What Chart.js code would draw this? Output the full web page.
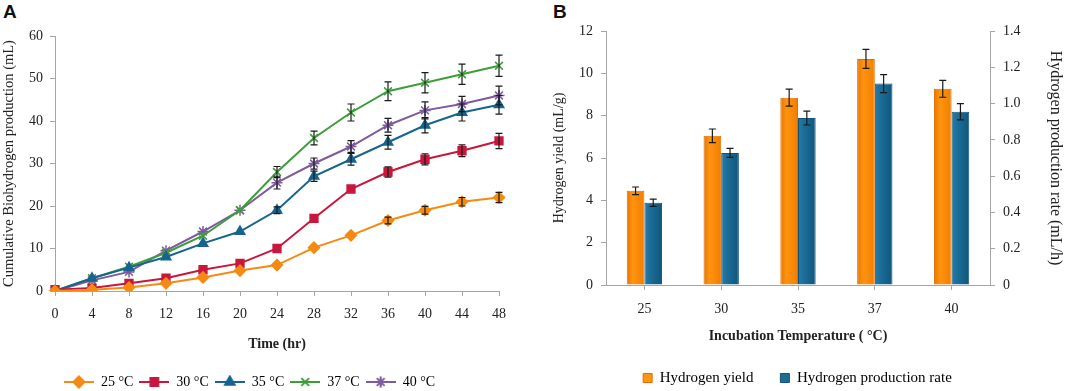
<!DOCTYPE html>
<html lang="en">
<head>
    <meta charset="UTF-8">
    <title>Biohydrogen production vs temperature</title>
    <script src="https://cdn.jsdelivr.net/npm/chart.js"></script>
    <style>
        body {
            margin: 0;
            padding: 0;
            background: #fff;
            width: 1065px;
            height: 391px;
            position: relative;
            overflow: hidden;
        }
        .panel-label {
            position: absolute;
            top: 1px;
            font-family: "Liberation Sans", Arial, sans-serif;
            font-weight: bold;
            font-size: 19px;
            color: #111;
        }
        .box {
            position: absolute;
            top: 0;
            height: 391px;
        }
    </style>
</head>
<body>
    <div class="panel-label" style="left:3px">A</div>
    <div class="panel-label" style="left:553px">B</div>
    <div class="box" style="left:0;width:530px"><canvas id="lineChart" width="530" height="391"></canvas></div>
    <div class="box" style="left:530px;width:535px"><canvas id="barChart" width="535" height="391"></canvas></div>

    <script>
        // ---- panel A data: cumulative biohydrogen (mL) over time (hr)
        const hours = ["0", "4", "8", "12", "16", "20", "24", "28", "32", "36", "40", "44", "48"];
        const temp25 = [0, 0.3, 0.8, 1.8, 3.2, 4.8, 6.1, 10.2, 13.1, 16.6, 19, 21, 22];
        const temp30 = [0.3, 0.7, 1.8, 3.0, 5.0, 6.5, 10, 17.1, 24, 28, 31, 33, 35.3];
        const temp35 = [0, 3, 5.5, 8, 11.2, 14, 19, 27, 31, 35, 39, 42, 43.8];
        const temp37 = [0, 3, 5.7, 9, 13, 19, 28, 36, 42, 47, 49, 51, 53];
        const temp40 = [0, 2.5, 4.5, 9.5, 14, 19, 25.5, 30, 34, 39, 42.5, 44, 46];
        const err25 = [0, 0, 0, 0, 0, 0, 0, 0, 0, 0.8, 0.9, 1.0, 1.2];
        const err30 = [0, 0, 0, 0, 0, 0, 0, 0, 0, 1.2, 1.3, 1.4, 1.8];
        const err35 = [0, 0, 0, 0, 0, 0, 0.8, 1.2, 1.4, 1.6, 1.8, 2.0, 2.2];
        const err37 = [0, 0, 0, 0, 0, 0, 1.3, 1.6, 2.0, 2.2, 2.4, 2.4, 2.5];
        const err40 = [0, 0, 0, 0, 0, 0, 1.5, 1.3, 1.4, 1.6, 2.0, 1.8, 2.2];

        // ---- panel B data: yield and rate by incubation temperature
        const incubationTemps = ["25", "30", "35", "37", "40"];
        const hydrogenYield = [4.45, 7.05, 8.85, 10.68, 9.27];
        const yieldErr = [0.18, 0.32, 0.4, 0.45, 0.4];
        const productionRate = [0.453, 0.728, 0.92, 1.11, 0.955];
        const rateErr = [0.02, 0.025, 0.038, 0.05, 0.045];

        const serif = "'Liberation Serif', 'Times New Roman', serif";
        const axisGray = "#a6a6a6";

        // draws vertical error bars with caps using the chart's own scales
        const errorBarPlugin = {
            id: "errorBars",
            afterDatasetsDraw(chart) {
                const ctx = chart.ctx;
                ctx.save();
                ctx.strokeStyle = "#1a1a1a";
                ctx.lineWidth = 1.2;
                chart.data.datasets.forEach((ds, i) => {
                    if (!ds.errors) return;
                    const meta = chart.getDatasetMeta(i);
                    const yScale = chart.scales[meta.yAxisID];
                    meta.data.forEach((el, j) => {
                        const e = ds.errors[j];
                        if (!e) return;
                        const v = ds.data[j];
                        const top = yScale.getPixelForValue(v + e);
                        const bot = yScale.getPixelForValue(v - e);
                        const x = el.x;
                        ctx.beginPath();
                        ctx.moveTo(x, top); ctx.lineTo(x, bot);
                        ctx.moveTo(x - 3.5, top); ctx.lineTo(x + 3.5, top);
                        ctx.moveTo(x - 3.5, bot); ctx.lineTo(x + 3.5, bot);
                        ctx.stroke();
                    });
                });
                ctx.restore();
            }
        };

        // the Excel-like shaded bars: left-to-right gradient on each bar
        // (backgroundColor is a function below so every bar gets its own options object)
        const barShadePlugin = {
            id: "barShade",
            beforeDatasetDraw(chart, args) {
                const ds = chart.data.datasets[args.index];
                if (!ds.shade) return;
                args.meta.data.forEach(el => {
                    const g = chart.ctx.createLinearGradient(el.x - el.width / 2, 0, el.x + el.width / 2, 0);
                    g.addColorStop(0, ds.shade[0]);
                    g.addColorStop(0.35, ds.shade[1]);
                    g.addColorStop(1, ds.shade[2]);
                    el.options.backgroundColor = g;
                });
            }
        };

        // legend swatch: short line with the marker on top of it
        function drawSwatch(color, style) {
            const c = document.createElement("canvas");
            c.width = 30; c.height = 14;
            const g = c.getContext("2d");
            g.strokeStyle = color;
            g.fillStyle = color;
            g.lineWidth = 2;
            g.beginPath(); g.moveTo(0, 7); g.lineTo(30, 7); g.stroke();
            Chart.helpers.drawPoint(g, { pointStyle: style, radius: 5.5, rotation: 0, borderWidth: 1.5 }, 15, 7);
            return c;
        }

        const lineSeries = [
            { label: "25 \u00b0C", data: temp25, errors: err25, color: "#f58a12", style: "rectRot" },
            { label: "30 \u00b0C", data: temp30, errors: err30, color: "#c8163c", style: "rect" },
            { label: "35 \u00b0C", data: temp35, errors: err35, color: "#17648e", style: "triangle" },
            { label: "37 \u00b0C", data: temp37, errors: err37, color: "#3c9e3a", style: "crossRot" },
            { label: "40 \u00b0C", data: temp40, errors: err40, color: "#7d5b9c", style: "star" }
        ];

        new Chart(document.getElementById("lineChart"), {
            type: "line",
            data: {
                labels: hours,
                datasets: lineSeries.map(s => ({
                    label: s.label,
                    data: s.data,
                    errors: s.errors,
                    borderColor: s.color,
                    backgroundColor: s.color,
                    borderWidth: 2,
                    pointStyle: s.style,
                    pointRadius: 5.5,
                    pointBorderWidth: 1.5,
                    pointBorderColor: s.color,
                    pointBackgroundColor: s.color,
                    tension: 0,
                    swatch: drawSwatch(s.color, s.style)
                }))
            },
            options: {
                responsive: false,
                animation: false,
                layout: { padding: { top: 36, right: 31, bottom: -8, left: 0 } },
                plugins: {
                    tooltip: { enabled: false },
                    legend: {
                        position: "bottom",
                        labels: {
                            padding: 6,
                            usePointStyle: true,
                            pointStyleWidth: 30,
                            color: "#222",
                            font: { family: serif, size: 14 },
                            generateLabels(chart) {
                                return chart.data.datasets.map((ds, i) => ({
                                    text: ds.label,
                                    pointStyle: ds.swatch,
                                    fillStyle: ds.borderColor,
                                    strokeStyle: ds.borderColor,
                                    lineWidth: 0,
                                    hidden: false,
                                    datasetIndex: i
                                }));
                            }
                        }
                    }
                },
                scales: {
                    x: {
                        offset: false,
                        border: { color: axisGray },
                        grid: { drawOnChartArea: false, color: axisGray, tickLength: 5 },
                        ticks: { color: "#222", font: { family: serif, size: 14 }, maxRotation: 0, autoSkip: false, padding: 10 },
                        title: {
                            display: true,
                            text: "Time (hr)",
                            color: "#222",
                            font: { family: serif, size: 14, weight: "bold" },
                            padding: { top: 4, bottom: 16 }
                        },
                        afterFit(scale) { scale.height = 78; }
                    },
                    y: {
                        min: 0,
                        max: 60,
                        border: { color: axisGray },
                        grid: { drawOnChartArea: false, color: axisGray, tickLength: 5 },
                        ticks: { stepSize: 10, color: "#222", font: { family: serif, size: 14 }, padding: 7 },
                        title: {
                            display: true,
                            text: "Cumulative Biohydrogen production (mL)",
                            color: "#222",
                            font: { family: serif, size: 14.5 },
                            padding: 0
                        },
                        afterFit(scale) { scale.width = 55; }
                    }
                }
            },
            plugins: [errorBarPlugin]
        });

        new Chart(document.getElementById("barChart"), {
            type: "bar",
            data: {
                labels: incubationTemps,
                datasets: [
                    {
                        label: "Hydrogen yield",
                        data: hydrogenYield,
                        errors: yieldErr,
                        yAxisID: "y",
                        backgroundColor: () => "#fb8a09",
                        shade: ["#e97400", "#ff9410", "#f27d00"],
                        borderColor: "#e06e00",
                        borderWidth: 1
                    },
                    {
                        label: "Hydrogen production rate",
                        data: productionRate,
                        errors: rateErr,
                        yAxisID: "y1",
                        backgroundColor: () => "#1b6d98",
                        shade: ["#237cad", "#1b6d98", "#12557a"],
                        borderColor: "#0f5478",
                        borderWidth: 1
                    }
                ]
            },
            options: {
                responsive: false,
                animation: false,
                categoryPercentage: 0.46,
                barPercentage: 1,
                layout: { padding: { top: 31, right: 0, bottom: -4.5, left: 0 } },
                plugins: {
                    tooltip: { enabled: false },
                    legend: {
                        position: "bottom",
                        labels: {
                            padding: 27,
                            boxWidth: 9,
                            boxHeight: 9,
                            color: "#222",
                            font: { family: serif, size: 15 },
                            generateLabels(chart) {
                                return chart.data.datasets.map((ds, i) => ({
                                    text: ds.label,
                                    fillStyle: ds.shade[1],
                                    strokeStyle: ds.borderColor,
                                    lineWidth: 1,
                                    hidden: false,
                                    datasetIndex: i
                                }));
                            }
                        }
                    }
                },
                scales: {
                    x: {
                        border: { color: axisGray },
                        grid: { drawOnChartArea: false, color: axisGray, tickLength: 5, offset: false },
                        ticks: { color: "#222", font: { family: serif, size: 14 }, padding: 11 },
                        title: {
                            display: true,
                            text: "Incubation Temperature ( \u00b0C)",
                            color: "#222",
                            font: { family: serif, size: 14, weight: "bold" },
                            padding: { top: 2, bottom: -1 }
                        },
                        afterFit(scale) { scale.height = 58.5; }
                    },
                    y: {
                        position: "left",
                        min: 0,
                        max: 12,
                        border: { color: axisGray },
                        grid: { drawOnChartArea: false, color: axisGray, tickLength: 5 },
                        ticks: { stepSize: 2, color: "#222", font: { family: serif, size: 14 }, padding: 8 },
                        title: {
                            display: true,
                            text: "Hydrogen yield (mL/g)",
                            color: "#222",
                            font: { family: serif, size: 14 },
                            padding: { top: 21, bottom: 0 }
                        },
                        afterFit(scale) { scale.width = 76; }
                    },
                    y1: {
                        position: "right",
                        min: 0,
                        max: 1.4,
                        border: { color: axisGray },
                        grid: { drawOnChartArea: false, color: axisGray, tickLength: 5 },
                        ticks: { stepSize: 0.2, color: "#222", font: { family: serif, size: 14 }, padding: 8 },
                        title: {
                            display: true,
                            text: "Hydrogen production rate (mL/h)",
                            color: "#222",
                            font: { family: serif, size: 16 },
                            padding: { top: 0, bottom: 0 }
                        },
                        afterFit(scale) { scale.width = 75; }
                    }
                }
            },
            plugins: [errorBarPlugin, barShadePlugin]
        });
    </script>
</body>
</html>
